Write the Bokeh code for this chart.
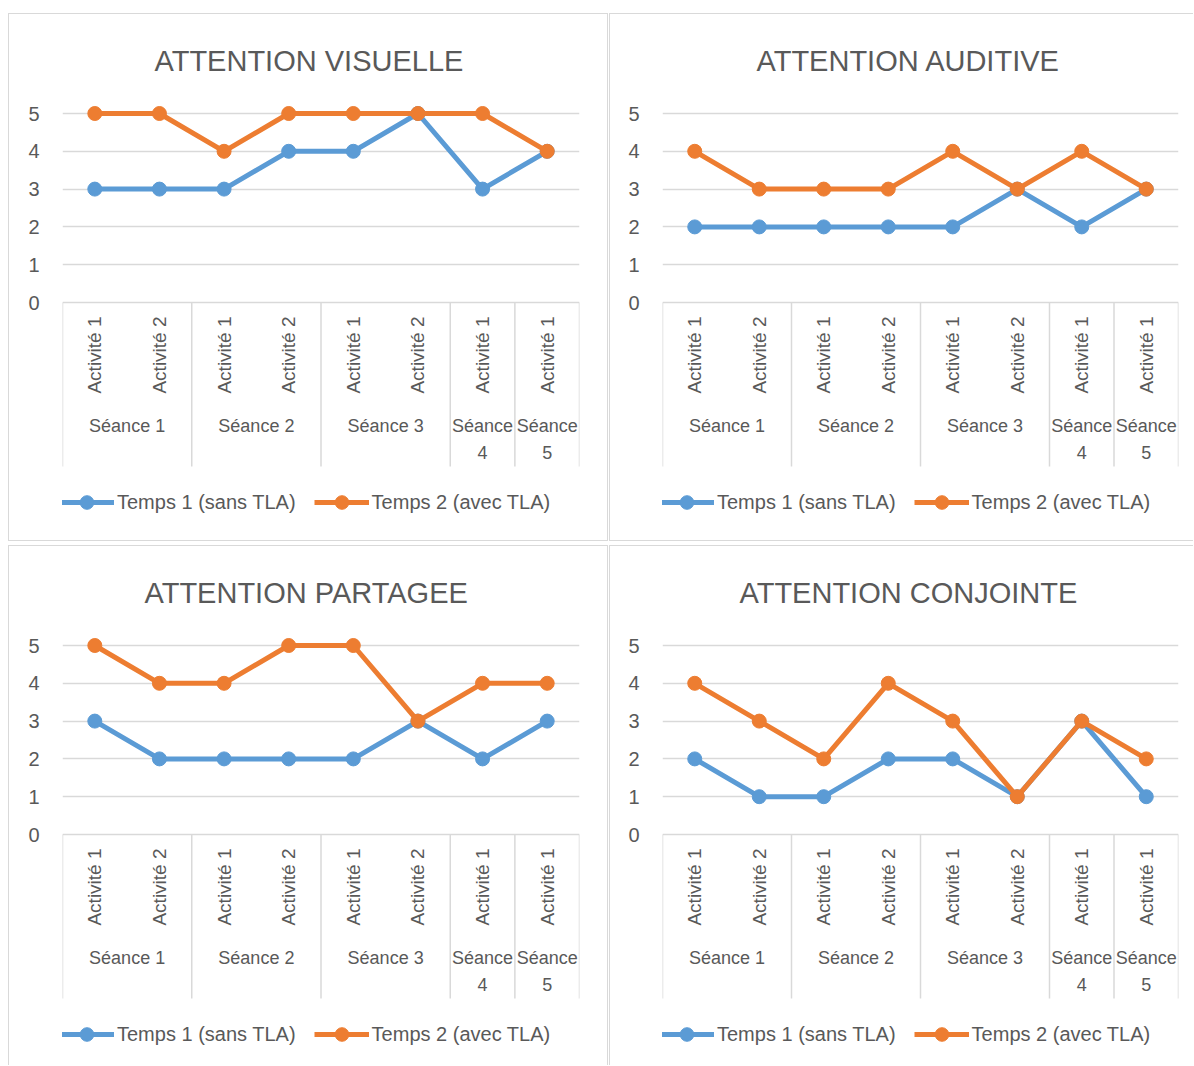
import math
from bokeh.plotting import figure
from bokeh.models import Range1d, FixedTicker, Legend, LegendItem
from bokeh.layouts import gridplot
from bokeh.embed import file_html
from bokeh.resources import INLINE

# ---------------- data ----------------
seances = ["Séance 1", "Séance 1", "Séance 2", "Séance 2", "Séance 3", "Séance 3", "Séance 4", "Séance 5"]
activites = ["Activité 1", "Activité 2", "Activité 1", "Activité 2", "Activité 1", "Activité 2", "Activité 1", "Activité 1"]
y_ticks = [0, 1, 2, 3, 4, 5]
series_names = ["Temps 1 (sans TLA)", "Temps 2 (avec TLA)"]

titles = ["ATTENTION VISUELLE", "ATTENTION AUDITIVE", "ATTENTION PARTAGEE", "ATTENTION CONJOINTE"]
visuelle_t1 = [3, 3, 3, 4, 4, 5, 3, 4]
visuelle_t2 = [5, 5, 4, 5, 5, 5, 5, 4]
auditive_t1 = [2, 2, 2, 2, 2, 3, 2, 3]
auditive_t2 = [4, 3, 3, 3, 4, 3, 4, 3]
partagee_t1 = [3, 2, 2, 2, 2, 3, 2, 3]
partagee_t2 = [5, 4, 4, 5, 5, 3, 4, 4]
conjointe_t1 = [2, 1, 1, 2, 2, 1, 3, 1]
conjointe_t2 = [4, 3, 2, 4, 3, 1, 3, 2]

# ---------------- style ----------------
BLUE = "#5B9BD5"
ORANGE = "#ED7D31"
TEXT = "#595959"
GRID = "#D9D9D9"

PX_PER_UNIT = 37.8
FRAME_TOP = 84
FIVE_Y = 99
ZERO_Y = 288
SEP_BOTTOM = 452
FRAME_BOTTOM = 515
Y_END = 5 + (FIVE_Y - FRAME_TOP) / PX_PER_UNIT
Y_START = -(FRAME_BOTTOM - ZERO_Y) / PX_PER_UNIT
Y_SEP = -(SEP_BOTTOM - ZERO_Y) / PX_PER_UNIT


def make_panel(title, t1, t2, width, height, left, right, title_offset, css):
    n = len(activites)
    xs = [i + 0.5 for i in range(n)]          # category slots on the x scale
    groups = []
    for s in seances:
        if s not in groups:
            groups.append(s)
    members = {g: [xs[i] for i in range(n) if seances[i] == g] for g in groups}

    p = figure(x_range=Range1d(0, n), y_range=Range1d(Y_START, Y_END),
               width=width, height=height, output_backend="svg", toolbar_location=None,
               min_border_left=left, min_border_right=right,
               min_border_top=FRAME_TOP, min_border_bottom=height - FRAME_BOTTOM,
               title=title, styles=css)
    p.outline_line_color = None
    p.xaxis.visible = False

    p.title.text_font_size = "29px"
    p.title.text_font_style = "normal"
    p.title.text_color = TEXT
    p.title.align = "left"
    p.title.offset = title_offset
    p.title.standoff = 44

    ax = p.yaxis[0]
    ax.ticker = FixedTicker(ticks=y_ticks)
    ax.axis_line_color = None
    ax.major_tick_line_color = None
    ax.minor_tick_line_color = None
    ax.major_tick_out = 0
    ax.major_tick_in = 0
    ax.major_label_standoff = 23
    ax.major_label_text_font_size = "20px"
    ax.major_label_text_color = TEXT

    p.xgrid.visible = False
    p.ygrid.ticker = FixedTicker(ticks=y_ticks)
    p.ygrid.grid_line_color = GRID
    p.ygrid.grid_line_width = 1.5

    # group separators at category-group boundaries
    bounds = [min(members[groups[0]]) - 0.5] + [max(members[g]) + 0.5 for g in groups]
    p.segment(x0=bounds, y0=[0] * len(bounds), x1=bounds, y1=[Y_SEP] * len(bounds),
              line_color=GRID, line_width=1.5)

    # activity labels (rotated)
    p.text(x=xs, y=[-0.37] * n, text=activites, angle=math.pi / 2,
           text_align="right", text_baseline="middle",
           text_font_size="19px", text_color=TEXT)

    # seance labels (single-activity groups wrap onto two lines)
    gx1, gt1, gx2, gt2 = [], [], [], []
    for g in groups:
        cx = sum(members[g]) / len(members[g])
        if len(members[g]) == 1:
            word, num = g.split(" ")
            gx1.append(cx); gt1.append(word)
            gx2.append(cx); gt2.append(num)
        else:
            gx1.append(cx); gt1.append(g)
    p.text(x=gx1, y=[-3.28] * len(gx1), text=gt1, text_align="center",
           text_baseline="middle", text_font_size="18px", text_color=TEXT)
    p.text(x=gx2, y=[-3.97] * len(gx2), text=gt2, text_align="center",
           text_baseline="middle", text_font_size="18px", text_color=TEXT)

    r1l = p.line(xs, t1, line_color=BLUE, line_width=5, line_join="round")
    r1s = p.scatter(xs, t1, color=BLUE, size=14)
    r2l = p.line(xs, t2, line_color=ORANGE, line_width=5, line_join="round")
    r2s = p.scatter(xs, t2, color=ORANGE, size=14)

    legend = Legend(items=[LegendItem(label=series_names[0], renderers=[r1l, r1s]),
                           LegendItem(label=series_names[1], renderers=[r2l, r2s])],
                    orientation="horizontal", location=(-3, FRAME_BOTTOM - 505),
                    glyph_width=55, glyph_height=34, label_standoff=3, spacing=18,
                    padding=0, margin=0, border_line_color=None,
                    background_fill_alpha=0,
                    label_text_font_size="20px", label_text_color=TEXT)
    p.add_layout(legend)
    return p


B = "1px solid #d9d9d9"
p1 = make_panel(titles[0], visuelle_t1, visuelle_t2, 600, 528, 53, 30, 92,
                {"border": B})
p2 = make_panel(titles[1], auditive_t1, auditive_t2, 584, 528, 52, 16, 94,
                {"border-top": B, "border-left": B, "border-bottom": B})
p3 = make_panel(titles[2], partagee_t1, partagee_t2, 600, 520, 53, 30, 82,
                {"border-top": B, "border-left": B, "border-right": B})
p4 = make_panel(titles[3], conjointe_t1, conjointe_t2, 584, 520, 52, 16, 77,
                {"border-top": B, "border-left": B})

grid = gridplot([[p1, p2], [p3, p4]], toolbar_location=None)
grid.spacing = (4, 1)
grid.styles = {"margin-left": "8px", "margin-top": "13px"}

open("out.html", "w").write(file_html(grid, INLINE))
